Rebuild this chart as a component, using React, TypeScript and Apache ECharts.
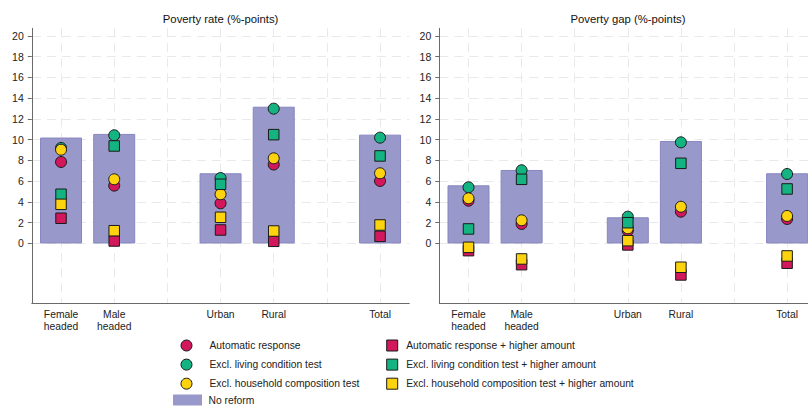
import React, { useEffect, useRef } from 'react';
import * as echarts from 'echarts';

// Categories and their slot positions on the x axis (gaps between groups)
const categories = ['Female\nheaded', 'Male\nheaded', 'Urban', 'Rural', 'Total'];
const slots = [0, 1, 3, 4, 6];
const gridSlots = [0, 1, 2, 3, 4, 5, 6];
const yTicks = [0, 2, 4, 6, 8, 10, 12, 14, 16, 18, 20];

const panelTitles = ['Poverty rate (%-points)', 'Poverty gap (%-points)'];

const seriesNames = [
  'Automatic response',
  'Excl. living condition test',
  'Excl. household composition test',
  'Automatic response + higher amount',
  'Excl. living condition test + higher amount',
  'Excl. household composition test + higher amount',
];
const noReformName = 'No reform';

// Poverty rate
const rateNoReform = [10.2, 10.55, 6.76, 13.17, 10.48];
const rateAutomatic = [7.85, 5.57, 3.87, 7.6, 6.02];
const rateExclLiving = [9.2, 10.42, 6.3, 12.98, 10.19];
const rateExclHousehold = [9.03, 6.18, 4.74, 8.2, 6.76];
const rateAutomaticHigher = [2.43, 0.24, 1.3, 0.21, 0.69];
const rateExclLivingHigher = [4.74, 9.39, 5.7, 10.48, 8.43];
const rateExclHouseholdHigher = [3.77, 1.23, 2.52, 1.2, 1.78];

// Poverty gap
const gapNoReform = [5.6, 7.08, 2.52, 9.87, 6.76];
const gapAutomatic = [4.12, 1.88, 1.23, 3.06, 2.36];
const gapExclLiving = [5.41, 7.05, 2.58, 9.74, 6.69];
const gapExclHousehold = [4.35, 2.23, 1.46, 3.54, 2.65];
const gapAutomaticHigher = [-0.69, -2.04, -0.14, -3.03, -1.9];
const gapExclLivingHigher = [1.4, 6.18, 2.0, 7.72, 5.25];
const gapExclHouseholdHigher = [-0.37, -1.49, 0.27, -2.29, -1.2];

const RED = '#d2175c';
const GREEN = '#13b482';
const YELLOW = '#fdd20f';
const BAR = '#9998ca';
const FONT = "'Liberation Sans', Arial, sans-serif";

const markerColors = [RED, GREEN, YELLOW, RED, GREEN, YELLOW];
const markerSymbols = ['circle', 'circle', 'circle', 'rect', 'rect', 'rect'];

export default function App() {
  const ref = useRef<HTMLDivElement>(null);
  useEffect(() => {
    document.body.style.margin = '0';
    if (!ref.current) return;
    const chart = echarts.init(ref.current, undefined, { renderer: 'svg' });

    const panels = [
      { noReform: rateNoReform, markers: [rateAutomatic, rateExclLiving, rateExclHousehold, rateAutomaticHigher, rateExclLivingHigher, rateExclHouseholdHigher] },
      { noReform: gapNoReform, markers: [gapAutomatic, gapExclLiving, gapExclHousehold, gapAutomaticHigher, gapExclLivingHigher, gapExclHouseholdHigher] },
    ];

    const gridLine = { show: true, lineStyle: { color: '#e9e9e9', type: [9, 6], width: 1 } };
    const axisColor = '#6a6a6a';

    const grids = [
      { left: 31.8, top: 28.3, width: 377.5, height: 275, outerBoundsMode: 'none' },
      { left: 439.3, top: 28.3, width: 377, height: 275, outerBoundsMode: 'none' },
    ];

    const xAxes = grids.map((_, gi) => ({
      type: 'value',
      gridIndex: gi,
      min: -0.55,
      max: 6.55,
      axisLine: { show: true, onZero: false, lineStyle: { color: axisColor, width: 1 } },
      axisTick: { show: false, customValues: gridSlots },
      axisLabel: {
        customValues: slots,
        formatter: (v: number) => categories[slots.indexOf(Math.round(v))] ?? '',
        fontSize: 10.3,
        lineHeight: 12,
        color: '#222',
        margin: 5,
        fontFamily: FONT,
      },
      splitLine: gridLine,
    }));

    const yAxes = grids.map((_, gi) => ({
      type: 'value',
      gridIndex: gi,
      min: -5.76,
      max: 20.72,
      axisLine: { show: true, onZero: false, lineStyle: { color: axisColor, width: 1 } },
      axisTick: { show: true, length: 4, customValues: yTicks, lineStyle: { color: axisColor } },
      axisLabel: { customValues: yTicks, fontSize: 10.5, color: '#222', margin: 8, fontFamily: FONT },
      splitLine: gridLine,
    }));

    const series: any[] = [];
    panels.forEach((p, gi) => {
      series.push({
        type: 'bar',
        name: noReformName,
        xAxisIndex: gi,
        yAxisIndex: gi,
        barWidth: 42,
        data: slots.map((s, i) => [s, p.noReform[i]]),
        itemStyle: { color: BAR, borderColor: '#8786c0', borderWidth: 1 },
      });
      p.markers.forEach((vals, k) => {
        series.push({
          type: 'scatter',
          name: seriesNames[k],
          xAxisIndex: gi,
          yAxisIndex: gi,
          symbol: markerSymbols[k],
          symbolSize: markerSymbols[k] === 'circle' ? 11 : 10.5,
          data: slots.map((s, i) => [s, vals[i]]),
          itemStyle: { color: markerColors[k], borderColor: '#1a1a1a', borderWidth: 1, opacity: 1 },
        });
      });
    });

    const legendText = { fontSize: 10.3, color: '#222', fontFamily: FONT, lineHeight: 11 };
    const legendBase = {
      orient: 'vertical',
      padding: 0,
      itemHeight: 11,
      itemGap: 7.1,
      selectedMode: false,
      height: 80,
      itemStyle: { borderWidth: 1 },
    };

    chart.setOption({
      animation: false,
      textStyle: { fontFamily: FONT },
      grid: grids,
      xAxis: xAxes,
      yAxis: yAxes,
      series,
      legend: [
        {
          ...legendBase,
          left: 180.5,
          top: 339.5,
          itemWidth: 11,
          textStyle: { ...legendText, padding: [0, 0, 0, 12.5] },
          data: [
            { name: seriesNames[0], icon: 'circle' },
            { name: seriesNames[1], icon: 'circle' },
            { name: seriesNames[2], icon: 'circle' },
          ],
        },
        {
          ...legendBase,
          left: 173,
          top: 394.5,
          height: 12,
          itemWidth: 29,
          itemStyle: { borderWidth: 0 },
          textStyle: { ...legendText, padding: [0, 0, 0, 1.5] },
          data: [{ name: noReformName, icon: 'rect' }],
        },
        {
          ...legendBase,
          left: 386.2,
          top: 339.5,
          itemWidth: 11,
          textStyle: { ...legendText, padding: [0, 0, 0, 3.5] },
          data: [
            { name: seriesNames[3], icon: 'rect' },
            { name: seriesNames[4], icon: 'rect' },
            { name: seriesNames[5], icon: 'rect' },
          ],
        },
      ],
      graphic: [
        {
          type: 'text',
          x: 220.6,
          y: 18.5,
          style: { text: panelTitles[0], fontSize: 11.3, fontFamily: FONT, fill: '#111', align: 'center', verticalAlign: 'middle' },
        },
        {
          type: 'text',
          x: 628,
          y: 18.5,
          style: { text: panelTitles[1], fontSize: 11.3, fontFamily: FONT, fill: '#111', align: 'center', verticalAlign: 'middle' },
        },
      ],
    });
    return () => chart.dispose();
  }, []);
  return <div ref={ref} style={{ width: 808, height: 407 }} />;
}
